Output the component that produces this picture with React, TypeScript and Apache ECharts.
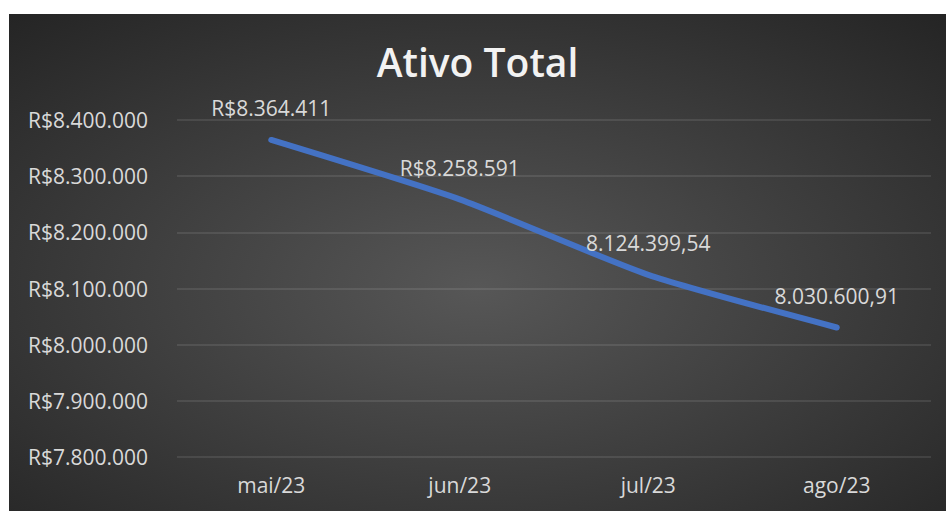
import React, { useEffect, useRef } from "react";
import * as echarts from "echarts";

const categories = ["mai/23", "jun/23", "jul/23", "ago/23"];
const values = [8364411, 8258591, 8124399.54, 8030600.91];
const pointLabels = ["R$8.364.411", "R$8.258.591", "8.124.399,54", "8.030.600,91"];
const yMin = 7800000;
const yMax = 8400000;
const yStep = 100000;
const titleText = "Ativo Total";

function fmtAxis(v: number): string {
  const s = Math.round(v).toString();
  return "R$" + s.replace(/\B(?=(\d{3})+(?!\d))/g, ".");
}

export default function App() {
  const ref = useRef<HTMLDivElement>(null);
  useEffect(() => {
    if (!ref.current) return;
    const chart = echarts.init(ref.current, undefined, { renderer: "svg" });
    const font = "'Open Sans', sans-serif";
    chart.setOption({
      animation: false,
      backgroundColor: {
        type: "radial",
        x: 0.5,
        y: 0.55,
        r: 0.75,
        colorStops: [
          { offset: 0, color: "#575757" },
          { offset: 1, color: "#242424" },
        ],
      },
      title: {
        text: titleText,
        left: "center",
        top: 23,
        textStyle: {
          color: "#f2f2f2",
          fontFamily: font,
          fontWeight: 600,
          fontSize: 39,
        },
      },
      grid: { left: 168, right: 15, top: 106, bottom: 54 },
      xAxis: {
        type: "category",
        data: categories,
        axisLine: { show: false },
        axisTick: { show: false },
        axisLabel: {
          color: "#d9d9d9",
          fontFamily: font,
          fontSize: 21,
          margin: 17,
        },
      },
      yAxis: {
        type: "value",
        min: yMin,
        max: yMax,
        interval: yStep,
        axisLine: { show: false },
        axisTick: { show: false },
        splitLine: { lineStyle: { color: "rgba(255,255,255,0.13)", width: 1.5 } },
        axisLabel: {
          color: "#d9d9d9",
          fontFamily: font,
          fontSize: 21,
          margin: 29,
          formatter: (v: number) => fmtAxis(v),
        },
      },
      series: [
        {
          type: "line",
          data: values,
          smooth: 0.2,
          symbol: "circle",
          symbolSize: 2,
          showSymbol: true,
          showAllSymbol: true,
          itemStyle: { color: "rgba(0,0,0,0)", borderWidth: 0 },
          lineStyle: { color: "#4472C4", width: 6, cap: "round" },
          label: {
            show: true,
            position: "top",
            distance: 20,
            color: "#d9d9d9",
            fontFamily: font,
            fontSize: 21,
            formatter: (p: any) => pointLabels[p.dataIndex],
          },
        },
      ],
    });
    return () => chart.dispose();
  }, []);
  return (
    <div
      ref={ref}
      style={{ position: "absolute", left: 9, top: 14, width: 937, height: 497 }}
    />
  );
}
